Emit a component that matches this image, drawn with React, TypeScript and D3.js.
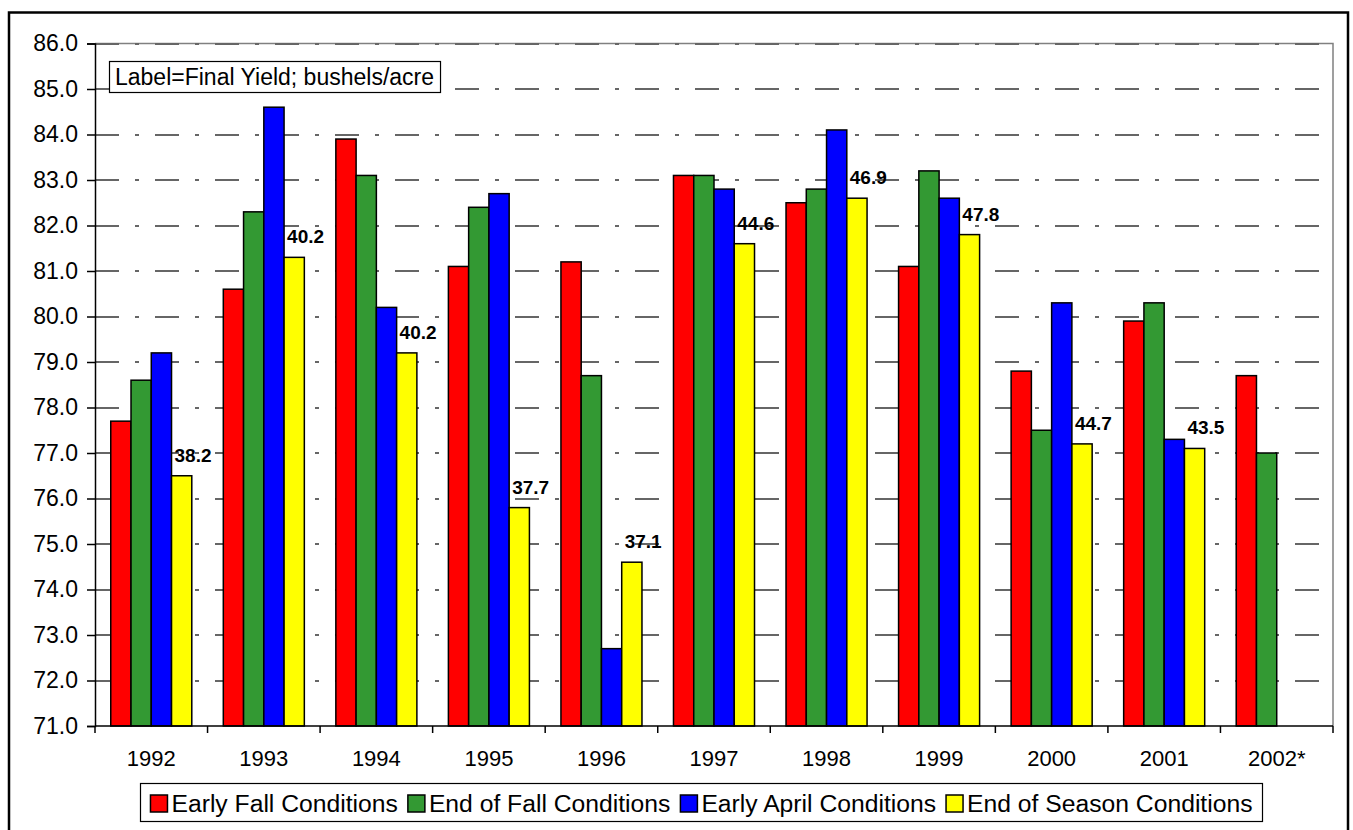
import { useRef, useEffect } from 'react'
import * as d3 from 'd3'

const years = ['1992', '1993', '1994', '1995', '1996', '1997', '1998', '1999', '2000', '2001', '2002*']
const seriesNames = ['Early Fall Conditions', 'End of Fall Conditions', 'Early April Conditions', 'End of Season Conditions']
const seriesColors = ['#ff0000', '#339933', '#0000ff', '#ffff00']
const earlyFall = [77.7, 80.6, 83.9, 81.1, 81.2, 83.1, 82.5, 81.1, 78.8, 79.9, 78.7]
const endOfFall = [78.6, 82.3, 83.1, 82.4, 78.7, 83.1, 82.8, 83.2, 77.5, 80.3, 77.0]
const earlyApril = [79.2, 84.6, 80.2, 82.7, 72.7, 82.8, 84.1, 82.6, 80.3, 77.3, null]
const endOfSeason = [76.5, 81.3, 79.2, 75.8, 74.6, 81.6, 82.6, 81.8, 77.2, 77.1, null]
const finalYield = [38.2, 40.2, 40.2, 37.7, 37.1, 44.6, 46.9, 47.8, 44.7, 43.5, null]
const yTicks = d3.range(71, 86.5, 1)
const noteText = 'Label=Final Yield; bushels/acre'

const FONT = "'Liberation Sans', Arial, sans-serif"

export default function App() {
  const svgRef = useRef<SVGSVGElement>(null)

  useEffect(() => {
    if (!svgRef.current) return
    const svg = d3.select(svgRef.current)
    svg.selectAll('*').remove()

    const width = 1353
    const height = 830
    const left = 95, right = 1333, top = 43.5, bottom = 726

    svg.attr('width', width).attr('height', height)

    // chart border
    svg.append('rect')
      .attr('x', 9).attr('y', 12.5)
      .attr('width', 1339).attr('height', 830)
      .attr('fill', '#fff').attr('stroke', '#000').attr('stroke-width', 2.5)

    const x0 = d3.scaleBand<string>()
      .domain(years)
      .range([left, right])
      .paddingInner(0.28)
      .paddingOuter(0.14)

    const x1 = d3.scaleBand<number>()
      .domain([0, 1, 2, 3])
      .range([0, x0.bandwidth()])

    const y = d3.scaleLinear().domain([71, 86]).range([bottom, top])

    // plot border (top/right, grey)
    svg.append('path')
      .attr('d', `M${left},${top}H${right}V${bottom}`)
      .attr('fill', 'none').attr('stroke', '#808080').attr('stroke-width', 1.5)

    // gridlines
    svg.append('g')
      .selectAll('line')
      .data(yTicks.filter(t => t > 71))
      .join('line')
      .attr('x1', left).attr('x2', right)
      .attr('y1', d => Math.round(y(d))).attr('y2', d => Math.round(y(d)))
      .attr('stroke', '#666').attr('stroke-width', 2)
      .attr('stroke-dasharray', '24,16,4,16')

    // bars
    const all = [earlyFall, endOfFall, earlyApril, endOfSeason]
    all.forEach((vals, si) => {
      svg.append('g')
        .selectAll('rect')
        .data(vals.map((v, i) => ({ v, year: years[i] })).filter(d => d.v != null))
        .join('rect')
        .attr('x', d => x0(d.year)! + x1(si)!)
        .attr('y', d => y(d.v as number))
        .attr('width', x1.bandwidth())
        .attr('height', d => bottom - y(d.v as number))
        .attr('fill', seriesColors[si])
        .attr('stroke', '#000').attr('stroke-width', 1.5)
    })

    // final yield labels on yellow bars
    svg.append('g')
      .selectAll('text')
      .data(finalYield.map((v, i) => ({ v, year: years[i], base: endOfSeason[i] })).filter(d => d.v != null))
      .join('text')
      .attr('x', d => x0(d.year)! + x1(3)! + 3)
      .attr('y', d => y(d.base as number) - 14)
      .attr('font-family', FONT).attr('font-size', '19px').attr('font-weight', 'bold')
      .text(d => d3.format('.1f')(d.v as number))

    // y axis
    const yAxis = svg.append('g')
      .attr('transform', `translate(${left},0)`)
      .call(d3.axisLeft(y).tickValues(yTicks).tickFormat(d3.format('.1f')).tickSize(8).tickPadding(9))
    yAxis.select('.domain').attr('stroke', '#000').attr('stroke-width', 1.5)
    yAxis.selectAll('.tick line').attr('stroke', '#000').attr('stroke-width', 1.5)
    yAxis.selectAll('text')
      .attr('fill', '#000').attr('font-size', '23px').attr('font-family', FONT)

    // x axis
    const step = x0.step()
    const bounds = years.map(yr => x0(yr)! - (step * 0.28) / 2).concat([right])
    svg.append('line')
      .attr('x1', left).attr('x2', right).attr('y1', bottom).attr('y2', bottom)
      .attr('stroke', '#000').attr('stroke-width', 1.5)
    svg.append('g')
      .selectAll('line')
      .data(bounds)
      .join('line')
      .attr('x1', d => d).attr('x2', d => d)
      .attr('y1', bottom).attr('y2', bottom + 7)
      .attr('stroke', '#000').attr('stroke-width', 1.5)
    svg.append('g')
      .selectAll('text')
      .data(years)
      .join('text')
      .attr('x', d => x0(d)! + x0.bandwidth() / 2)
      .attr('y', 766)
      .attr('text-anchor', 'middle')
      .attr('font-family', FONT).attr('font-size', '22px')
      .text(d => d)

    // note box
    const note = svg.append('g')
    const noteBox = note.append('rect')
      .attr('x', 109.5).attr('y', 61.5).attr('height', 31)
      .attr('fill', '#fff').attr('stroke', '#000').attr('stroke-width', 1.2)
    const noteT = note.append('text')
      .attr('x', 115).attr('y', 85)
      .attr('font-family', FONT).attr('font-size', '23px')
      .text(noteText)
    const nw = (noteT.node() as SVGTextElement).getComputedTextLength()
    noteBox.attr('width', nw + 12)

    // legend
    const lg = svg.append('g')
    lg.append('rect')
      .attr('x', 140.5).attr('y', 783.5).attr('width', 1122).attr('height', 38)
      .attr('fill', '#fff').attr('stroke', '#000').attr('stroke-width', 1.2)
    const sw = 17, gap = 4, itemGap = 10
    const items = seriesNames.map((name, i) => {
      const g = lg.append('g')
      g.append('rect')
        .attr('width', sw).attr('height', sw).attr('y', 795)
        .attr('fill', seriesColors[i]).attr('stroke', '#000').attr('stroke-width', 1.5)
      const t = g.append('text')
        .attr('y', 812)
        .attr('font-family', FONT).attr('font-size', '24.7px')
        .text(name)
      return { g, t, w: (t.node() as SVGTextElement).getComputedTextLength() }
    })
    const total = d3.sum(items, d => sw + gap + d.w) + itemGap * (items.length - 1)
    let cx = 140.5 + (1122 - total) / 2
    items.forEach(it => {
      it.g.select('rect').attr('x', cx)
      it.t.attr('x', cx + sw + gap)
      cx += sw + gap + it.w + itemGap
    })
  }, [])

  return (
    <svg ref={svgRef} style={{ position: 'absolute', left: 0, top: 0 }} />
  )
}
